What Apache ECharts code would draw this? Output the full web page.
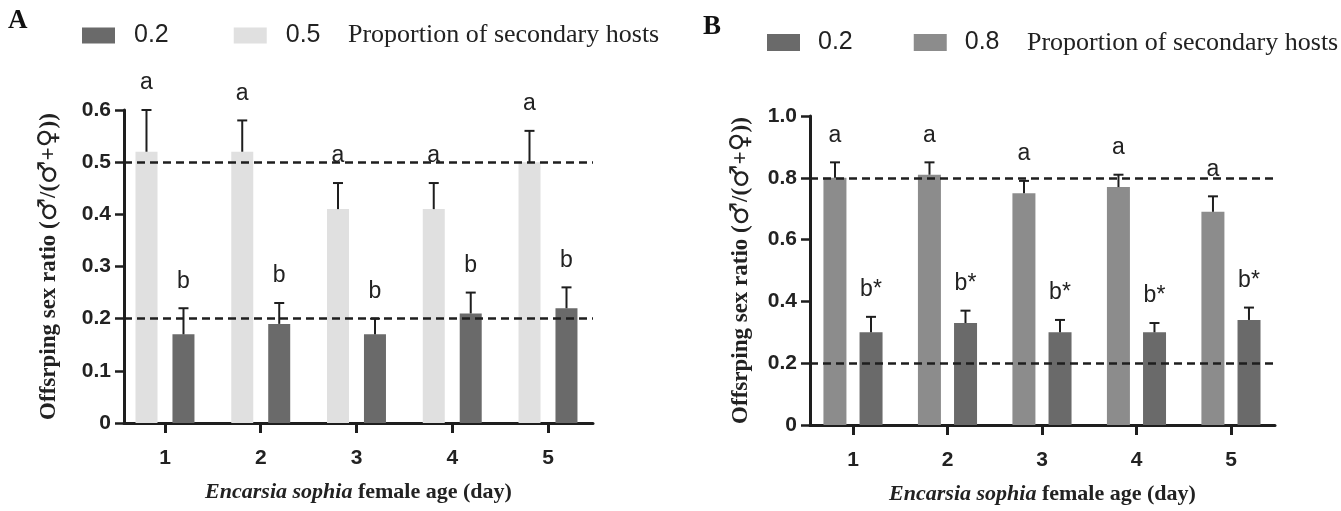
<!DOCTYPE html>
<html>
<head>
<meta charset="utf-8">
<script src="https://cdn.jsdelivr.net/npm/echarts@6/dist/echarts.min.js"></script>
<style>
  html, body { margin: 0; padding: 0; background: #fff; }
  #main { width: 1341px; height: 511px; }
</style>
</head>
<body>
<div id="main"></div>
<script>
// days on the x axis
var days = [1, 2, 3, 4, 5]

// panel A: proportion of secondary hosts 0.2 / 0.5
var aLow = [0.17, 0.19, 0.17, 0.21, 0.22]
var aLowErr = [0.22, 0.23, 0.20, 0.25, 0.26]
var aLowLabels = ['b', 'b', 'b', 'b', 'b']
var aHigh = [0.52, 0.52, 0.41, 0.41, 0.50]
var aHighErr = [0.60, 0.58, 0.46, 0.46, 0.56]
var aHighLabels = ['a', 'a', 'a', 'a', 'a']
var aRefLines = [0.5, 0.2]
var aTicks = [0, 0.1, 0.2, 0.3, 0.4, 0.5, 0.6]

// panel B: proportion of secondary hosts 0.2 / 0.8
var bLow = [0.30, 0.33, 0.30, 0.30, 0.34]
var bLowErr = [0.35, 0.37, 0.34, 0.33, 0.38]
var bLowLabels = ['b*', 'b*', 'b*', 'b*', 'b*']
var bHigh = [0.80, 0.81, 0.75, 0.77, 0.69]
var bHighErr = [0.85, 0.85, 0.79, 0.81, 0.74]
var bHighLabels = ['a', 'a', 'a', 'a', 'a']
var bRefLines = [0.8, 0.2]
var bTicks = [0, 0.2, 0.4, 0.6, 0.8, 1.0]

var DARK = '#6a6a6a'
var LIGHT_A = '#e0e0e0'
var LIGHT_B = '#8c8c8c'
var INK = '#1e1e1e'
var SANS = '"Liberation Sans", Arial, sans-serif'
var SERIF = '"Liberation Serif", "Times New Roman", serif'

function pairs(xs, ys) {
  return xs.map(function (x, i) { return [x, ys[i]] })
}

function errData(xs, ys, tops) {
  return xs.map(function (x, i) { return [x, ys[i], tops[i]] })
}

// error bar (upper only) + letter above it, shifted onto the bar centre
function errorSeries(idx, ys, tops, labels, shift) {
  return {
    type: 'custom',
    xAxisIndex: idx,
    yAxisIndex: idx,
    z: 5,
    silent: true,
    data: errData(days, ys, tops),
    encode: { x: 0, y: [1, 2] },
    renderItem: function (params, api) {
      var base = api.coord([api.value(0), api.value(1)])
      var top = api.coord([api.value(0), api.value(2)])
      var cx = base[0] + shift
      var st = { stroke: INK, lineWidth: 2 }
      return {
        type: 'group',
        children: [
          { type: 'line', shape: { x1: cx, y1: base[1], x2: cx, y2: top[1] }, style: st },
          { type: 'line', shape: { x1: cx - 5, y1: top[1], x2: cx + 5, y2: top[1] }, style: st },
          {
            type: 'text', x: cx, y: top[1] - 27,
            style: {
              text: labels[params.dataIndex], fill: '#222',
              font: '23px ' + SANS, align: 'center', verticalAlign: 'middle'
            }
          }
        ]
      }
    }
  }
}

function refSeries(idx, lines) {
  return {
    type: 'line',
    xAxisIndex: idx,
    yAxisIndex: idx,
    data: [],
    z: 1,
    markLine: {
      silent: true,
      symbol: 'none',
      label: { show: false },
      lineStyle: { color: INK, width: 2.5, type: [8, 5] },
      data: lines.map(function (v) { return { yAxis: v } })
    }
  }
}

function xAxisOf(idx, min, max) {
  return {
    type: 'value',
    gridIndex: idx,
    min: min,
    max: max,
    name: '{i|Encarsia sophia} female age (day)',
    nameLocation: 'middle',
    nameGap: 58,
    nameTextStyle: {
      fontFamily: SERIF, fontWeight: 'bold', fontSize: 22, color: '#222',
      rich: { i: { fontFamily: SERIF, fontWeight: 'bold', fontStyle: 'italic', fontSize: 22, color: '#222' } }
    },
    axisLine: { lineStyle: { color: INK, width: 3 } },
    axisTick: { customValues: days, length: 10, lineStyle: { color: INK, width: 3 } },
    axisLabel: {
      customValues: days, margin: 25,
      fontFamily: SANS, fontWeight: 'bold', fontSize: 21, color: '#222',
      formatter: function (v) { return String(Math.round(v)) }
    },
    splitLine: { show: false }
  }
}

function yAxisOf(idx, ticks, nameGap) {
  var nameFont = { fontFamily: SERIF, fontWeight: 'bold', fontSize: 23, color: '#222' }
  return {
    type: 'value',
    gridIndex: idx,
    min: ticks[0],
    max: ticks[ticks.length - 1],
    interval: ticks[1] - ticks[0],
    name: 'Offsrping sex ratio ({s|♂}/({s|♂}+{s|♀}))',
    nameLocation: 'middle',
    nameGap: nameGap,
    nameTextStyle: {
      fontFamily: SERIF, fontWeight: 'bold', fontSize: 23, color: '#222',
      rich: {
        s: { fontFamily: '"DejaVu Sans", sans-serif', fontWeight: 'bold', fontSize: 26, color: '#222' }
      }
    },
    axisLine: { show: true, lineStyle: { color: INK, width: 3 } },
    axisTick: { show: true, length: 9, lineStyle: { color: INK, width: 2.5 } },
    axisLabel: {
      margin: 13,
      fontFamily: SANS, fontWeight: 'bold', fontSize: 21, color: '#222',
      formatter: function (v) { return v === 0 ? '0' : v.toFixed(1) }
    },
    splitLine: { show: false }
  }
}

var chart = echarts.init(document.getElementById('main'))

var option = {
  backgroundColor: '#fff',
  animation: false,
  title: [
    { text: 'A', left: 8, top: 8, padding: 0, textStyle: { fontFamily: SERIF, fontWeight: 'bold', fontSize: 27, color: '#111' } },
    { text: 'B', left: 703, top: 14, padding: 0, textStyle: { fontFamily: SERIF, fontWeight: 'bold', fontSize: 27, color: '#111' } },
    { text: 'Proportion of secondary hosts', left: 348, top: 22, padding: 0, textStyle: { fontFamily: SERIF, fontWeight: 'normal', fontSize: 26, color: '#222' } },
    { text: 'Proportion of secondary hosts', left: 1027, top: 30, padding: 0, textStyle: { fontFamily: SERIF, fontWeight: 'normal', fontSize: 26, color: '#222' } }
  ],
  legend: [
    {
      left: 82, top: 23, padding: 0, itemGap: 65,
      itemWidth: 33, itemHeight: 16, icon: 'rect',
      data: ['0.2', '0.5'],
      textStyle: { fontFamily: SANS, fontSize: 25, color: '#222', padding: [0, 0, 0, 14] }
    },
    {
      left: 767, top: 30, padding: 0, itemGap: 61,
      itemWidth: 33, itemHeight: 17, icon: 'rect',
      data: ['0.2', '0.8'],
      textStyle: { fontFamily: SANS, fontSize: 25, color: '#222', padding: [0, 0, 0, 13] }
    }
  ],
  grid: [
    { left: 124, top: 110, width: 469, height: 313 },
    { left: 810, top: 116, width: 465, height: 309 }
  ],
  xAxis: [xAxisOf(0, 0.572, 5.47), xAxisOf(1, 0.545, 5.466)],
  yAxis: [yAxisOf(0, aTicks, 62), yAxisOf(1, bTicks, 56)],
  series: [
    refSeries(0, aRefLines),
    {
      name: '0.5', type: 'bar', xAxisIndex: 0, yAxisIndex: 0, z: 2,
      barWidth: 22, barGap: '68%', itemStyle: { color: LIGHT_A },
      data: pairs(days, aHigh)
    },
    {
      name: '0.2', type: 'bar', xAxisIndex: 0, yAxisIndex: 0, z: 2,
      barWidth: 22, barGap: '68%', itemStyle: { color: DARK },
      data: pairs(days, aLow)
    },
    errorSeries(0, aHigh, aHighErr, aHighLabels, -18.5),
    errorSeries(0, aLow, aLowErr, aLowLabels, 18.5),

    refSeries(1, bRefLines),
    {
      name: '0.8', type: 'bar', xAxisIndex: 1, yAxisIndex: 1, z: 2,
      barWidth: 23, barGap: '57%', itemStyle: { color: LIGHT_B },
      data: pairs(days, bHigh)
    },
    {
      name: '0.2', type: 'bar', xAxisIndex: 1, yAxisIndex: 1, z: 2,
      barWidth: 23, barGap: '57%', itemStyle: { color: DARK },
      data: pairs(days, bLow)
    },
    errorSeries(1, bHigh, bHighErr, bHighLabels, -18),
    errorSeries(1, bLow, bLowErr, bLowLabels, 18)
  ]
}

chart.setOption(option)
</script>
</body>
</html>
